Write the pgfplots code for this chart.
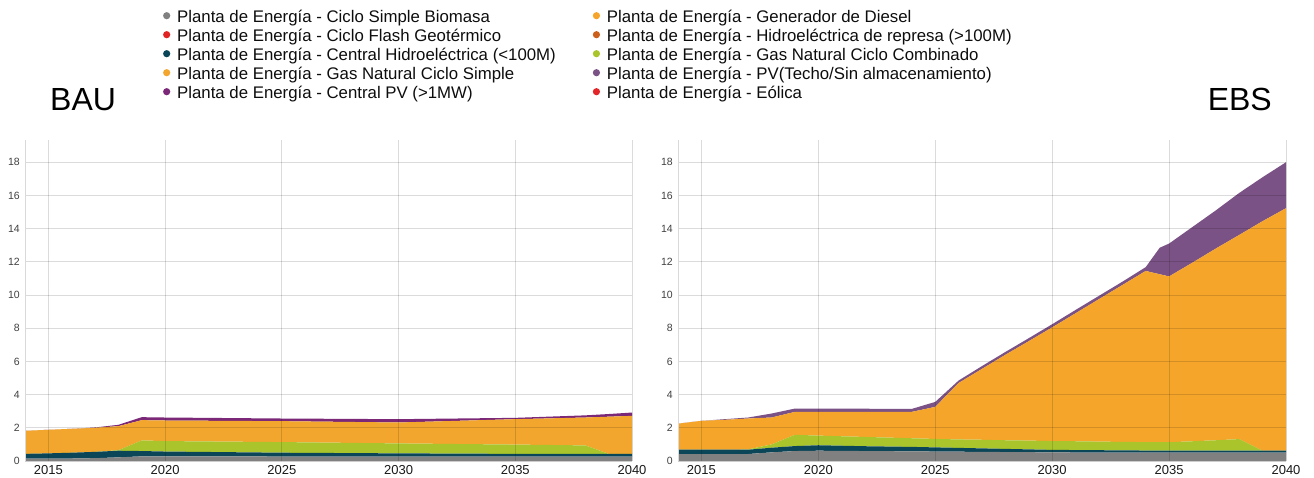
\documentclass[border=0pt]{standalone}
\usepackage{fontspec}
\setmainfont{Liberation Sans}
\usepackage{pgfplots}
\usepackage{pgfplotstable}
\pgfplotsset{compat=1.18}

\definecolor{cBio}{HTML}{808080}
\definecolor{cGeo}{HTML}{E02424}
\definecolor{cHid}{HTML}{0B4558}
\definecolor{cGCS}{HTML}{F2A62E}
\definecolor{cCPV}{HTML}{7A2877}
\definecolor{cDie}{HTML}{F5A52A}
\definecolor{cRep}{HTML}{CC5F1A}
\definecolor{cGCC}{HTML}{A9C52B}
\definecolor{cPVT}{HTML}{7B5285}
\definecolor{cEol}{HTML}{E3262A}

% thicknesses of stacked layers
\pgfplotstableread{
x      g     t     gr    o      p
2014   0.15  0.28  0.00  1.39   0.00
2015   0.15  0.31  0.00  1.42   0.00
2016   0.15  0.35  0.00  1.44   0.00
2017   0.17  0.38  0.00  1.45   0.02
2018   0.22  0.40  0.03  1.45   0.08
2019   0.28  0.32  0.64  1.22   0.18
2020   0.28  0.29  0.63  1.24   0.18
2025   0.27  0.23  0.64  1.26   0.16
2030   0.27  0.19  0.60  1.26   0.20
2035   0.27  0.16  0.56  1.53   0.08
2038   0.27  0.16  0.51  1.68   0.13
2039   0.27  0.16  0.00  2.24   0.16
2040   0.27  0.16  0.00  2.29   0.20
}\baudata

\pgfplotstableread{
x      g     t     gr    o      p
2014   0.42  0.26  0.00  1.57   0.00
2015   0.42  0.26  0.00  1.74   0.00
2016   0.42  0.26  0.00  1.80   0.04
2017   0.42  0.26  0.02  1.86   0.06
2018   0.52  0.28  0.20  1.62   0.24
2019   0.60  0.30  0.68  1.38   0.20
2020   0.62  0.33  0.58  1.43   0.20
2021   0.61  0.31  0.57  1.47   0.19
2022   0.60  0.29  0.56  1.51   0.19
2023   0.59  0.28  0.54  1.55   0.18
2024   0.58  0.27  0.52  1.59   0.18
2025   0.57  0.25  0.51  1.93   0.30
2026   0.56  0.23  0.51  3.40   0.15
2027   0.55  0.21  0.52  4.27   0.17
2028   0.54  0.19  0.52  5.15   0.17
2029   0.53  0.17  0.53  5.99   0.18
2030   0.52  0.15  0.53  6.85   0.19
2031   0.51  0.15  0.53  7.71   0.20
2032   0.51  0.14  0.52  8.58   0.20
2033   0.50  0.14  0.51  9.45   0.20
2034   0.50  0.13  0.51  10.31  0.23
2034.6 0.50  0.12  0.51  10.12  1.60
2035   0.50  0.12  0.51  9.99   1.98
2036   0.50  0.12  0.57  10.76  2.15
2037   0.50  0.12  0.63  11.55  2.30
2038   0.50  0.12  0.70  12.30  2.53
2039   0.50  0.12  0.00  13.83  2.65
2040   0.50  0.12  0.00  14.61  2.77
}\ebsdata

\pgfplotsset{chartbase/.style={
  scale only axis, height=321pt,
  xmin=2014, xmax=2040, ymin=0, ymax=19.34,
  stack plots=y, axis on top,
  xtick={2015,2020,...,2040}, ytick={0,2,...,18},
  grid=major,
  major grid style={draw=black, draw opacity=0.14, line width=1pt},
  major tick length=0pt,
  axis lines*=left,
  x axis line style={draw=none},
  y axis line style={draw=black!15, line width=1pt},
  xticklabel style={font=\fontsize{13}{13}\selectfont, text=black!90, anchor=north, inner sep=0pt, yshift=-4pt},
  yticklabel style={font=\fontsize{10.5}{10.5}\selectfont, text=black!75, anchor=east, inner sep=0pt, xshift=-5pt},
  /pgf/number format/assume math mode=true,
  /pgf/number format/1000 sep={},
  title style={font=\fontsize{32}{32}\selectfont, inner sep=0pt},
}}

\begin{document}
\begin{tikzpicture}
\path[use as bounding box] (0pt,0pt) rectangle (1314pt,477pt);

% BAU
\begin{axis}[chartbase, width=607pt, at={(25pt,16pt)}, anchor=south west,
  title={BAU}, title style={at={(0.0412,1.072)}, anchor=base west}]
\addplot[draw=none, fill=cBio] table[x=x, y=g] {\baudata} \closedcycle;
\addplot[draw=none, fill=cHid] table[x=x, y=t] {\baudata} \closedcycle;
\addplot[draw=none, fill=cGCC] table[x=x, y=gr] {\baudata} \closedcycle;
\addplot[draw=none, fill=cGCS] table[x=x, y=o] {\baudata} \closedcycle;
\addplot[draw=none, fill=cCPV] table[x=x, y=p] {\baudata} \closedcycle;
\end{axis}

% EBS
\begin{axis}[chartbase, width=608pt, at={(678pt,16pt)}, anchor=south west,
  title={EBS}, title style={at={(0.977,1.072)}, anchor=base east}]
\addplot[draw=none, fill=cBio] table[x=x, y=g] {\ebsdata} \closedcycle;
\addplot[draw=none, fill=cHid] table[x=x, y=t] {\ebsdata} \closedcycle;
\addplot[draw=none, fill=cGCC] table[x=x, y=gr] {\ebsdata} \closedcycle;
\addplot[draw=none, fill=cDie] table[x=x, y=o] {\ebsdata} \closedcycle;
\addplot[draw=none, fill=cPVT] table[x=x, y=p] {\ebsdata} \closedcycle;
\end{axis}

% Legend
\begin{axis}[scale only axis, width=1314pt, height=477pt, at={(0pt,0pt)}, anchor=south west,
  hide axis, xmin=0, xmax=1, ymin=0, ymax=1,
  legend columns=2, legend cell align=left,
  legend image code/.code={\fill[#1] (3.6pt,2.5pt) circle (3.6pt);},
  legend style={draw=none, fill=none, inner sep=0pt, at={(0.12397,0.97904)}, anchor=north west,
    font=\fontsize{16.8}{19}\selectfont, text=black!95, row sep=3pt,
    nodes={inner sep=0pt, text height=12pt, text depth=4pt},
    /tikz/column 1/.style={column sep=6.9pt},
    /tikz/column 2/.style={column sep=37pt},
    /tikz/column 3/.style={column sep=6.9pt}}]
\addlegendimage{draw=none, fill=cBio}
\addlegendentry{Planta de Energía - Ciclo Simple Biomasa}
\addlegendimage{draw=none, fill=cDie}
\addlegendentry{Planta de Energía - Generador de Diesel}
\addlegendimage{draw=none, fill=cGeo}
\addlegendentry{Planta de Energía - Ciclo Flash Geotérmico}
\addlegendimage{draw=none, fill=cRep}
\addlegendentry{Planta de Energía - Hidroeléctrica de represa (>100M)}
\addlegendimage{draw=none, fill=cHid}
\addlegendentry{Planta de Energía - Central Hidroeléctrica (<100M)}
\addlegendimage{draw=none, fill=cGCC}
\addlegendentry{Planta de Energía - Gas Natural Ciclo Combinado}
\addlegendimage{draw=none, fill=cGCS}
\addlegendentry{Planta de Energía - Gas Natural Ciclo Simple}
\addlegendimage{draw=none, fill=cPVT}
\addlegendentry{Planta de Energía - PV(Techo/Sin almacenamiento)}
\addlegendimage{draw=none, fill=cCPV}
\addlegendentry{Planta de Energía - Central PV (>1MW)}
\addlegendimage{draw=none, fill=cEol}
\addlegendentry{Planta de Energía - Eólica}
\end{axis}
\end{tikzpicture}
\end{document}
